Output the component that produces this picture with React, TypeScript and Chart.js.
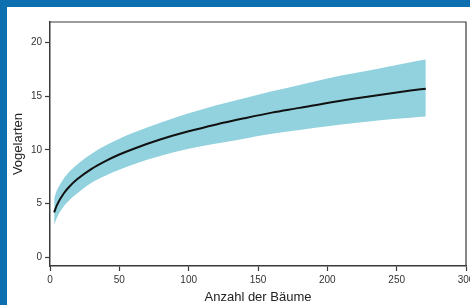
import React, { useEffect, useRef } from "react";
import { Chart, registerables } from "chart.js";

Chart.register(...registerables);

// Number of trees (x) and estimated bird species (mean, upper, lower)
const trees = [3, 5, 10, 15, 20, 30, 40, 50, 60, 80, 100, 120, 140, 160, 180, 200, 220, 240, 260, 271];
const speciesMean = [4.19, 4.87, 5.97, 6.72, 7.31, 8.24, 8.96, 9.57, 10.09, 10.99, 11.73, 12.37, 12.94, 13.47, 13.91, 14.37, 14.78, 15.16, 15.52, 15.7];
const speciesUpper = [5.5, 6.25, 7.35, 8.1, 8.7, 9.65, 10.4, 11.05, 11.6, 12.55, 13.4, 14.15, 14.8, 15.45, 16.05, 16.65, 17.15, 17.65, 18.15, 18.4];
const speciesLower = [3.0, 3.7, 4.75, 5.45, 6.0, 6.95, 7.6, 8.15, 8.65, 9.45, 10.1, 10.6, 11.05, 11.5, 11.85, 12.2, 12.5, 12.78, 13.0, 13.1];

const xTicks = [0, 50, 100, 150, 200, 250, 300];
const yTicks = [0, 5, 10, 15, 20];

const xTitle = "Anzahl der Bäume";
const yTitle = "Vogelarten";

const FONT = "'Liberation Sans', Arial, Helvetica, sans-serif";
const AXIS_COLOR = "#3a3a3a";
const TEXT_COLOR = "#333333";

const framePlugin = {
  id: "frame",
  afterDraw(chart: any) {
    const { ctx, chartArea } = chart;
    ctx.save();
    ctx.strokeStyle = AXIS_COLOR;
    ctx.lineWidth = 1.2;
    ctx.beginPath();
    ctx.moveTo(chartArea.left, chartArea.top);
    ctx.lineTo(chartArea.right, chartArea.top);
    ctx.lineTo(chartArea.right, chartArea.bottom);
    ctx.stroke();
    ctx.restore();
  },
};

export default function App() {
  const ref = useRef<HTMLCanvasElement | null>(null);

  useEffect(() => {
    if (!ref.current) return;
    const pts = (ys: number[]) => trees.map((x, i) => ({ x, y: ys[i] }));
    const chart = new Chart(ref.current, {
      type: "line",
      data: {
        datasets: [
          {
            label: "mean",
            data: pts(speciesMean),
            borderColor: "#111111",
            borderWidth: 2,
            pointRadius: 0,
            fill: false,
            cubicInterpolationMode: "monotone",
            order: 0,
          },
          {
            label: "upper",
            data: pts(speciesUpper),
            borderWidth: 0,
            borderColor: "rgba(0,0,0,0)",
            backgroundColor: "#92d2de",
            pointRadius: 0,
            fill: "+1",
            cubicInterpolationMode: "monotone",
            order: 1,
          },
          {
            label: "lower",
            data: pts(speciesLower),
            borderWidth: 0,
            borderColor: "rgba(0,0,0,0)",
            pointRadius: 0,
            fill: false,
            cubicInterpolationMode: "monotone",
            order: 2,
          },
        ],
      },
      options: {
        responsive: false,
        animation: false,
        devicePixelRatio: 1,
        layout: { padding: { top: 15, right: 4, left: 0, bottom: 0 } },
        plugins: {
          legend: { display: false },
          tooltip: { enabled: false },
        },
        scales: {
          x: {
            type: "linear",
            min: 0,
            max: 300,
            afterBuildTicks: (s: any) => {
              s.ticks = xTicks.map((v) => ({ value: v }));
            },
            afterFit: (s: any) => {
              s.height = 39;
              s.paddingLeft = 0;
              s.paddingRight = 0;
            },
            grid: {
              display: true,
              drawOnChartArea: false,
              drawTicks: true,
              tickLength: 5,
              tickColor: AXIS_COLOR,
              tickWidth: 1.2,
            },
            border: { display: true, color: AXIS_COLOR, width: 1.5 },
            ticks: {
              color: TEXT_COLOR,
              font: { family: FONT, size: 10 },
              padding: 3,
              maxRotation: 0,
            },
            title: {
              display: true,
              text: xTitle,
              color: "#222222",
              font: { family: FONT, size: 13 },
              padding: { top: 0, bottom: 0 },
            },
          },
          y: {
            type: "linear",
            min: -0.8,
            max: 21.9,
            afterBuildTicks: (s: any) => {
              s.ticks = yTicks.map((v) => ({ value: v }));
            },
            afterFit: (s: any) => {
              s.width = 43;
              s.paddingTop = 0;
              s.paddingBottom = 0;
            },
            grid: {
              display: true,
              drawOnChartArea: false,
              drawTicks: true,
              tickLength: 5,
              tickColor: AXIS_COLOR,
              tickWidth: 1.2,
            },
            border: { display: true, color: AXIS_COLOR, width: 1.5 },
            ticks: {
              color: TEXT_COLOR,
              font: { family: FONT, size: 10 },
              padding: 3,
            },
            title: {
              display: true,
              text: yTitle,
              color: "#222222",
              font: { family: FONT, size: 13 },
              padding: { top: 4, bottom: 0 },
            },
          },
        },
      },
      plugins: [framePlugin],
    } as any);
    return () => chart.destroy();
  }, []);

  return (
    <div
      style={{
        position: "fixed",
        left: 0,
        top: 0,
        width: 470,
        height: 305,
        background: "#0b6fb0",
        overflow: "hidden",
      }}
    >
      <div
        style={{
          position: "absolute",
          left: 7,
          top: 7,
          width: 463,
          height: 298,
          background: "#ffffff",
        }}
      >
        <canvas ref={ref} width={463} height={298} style={{ display: "block" }} />
      </div>
    </div>
  );
}
